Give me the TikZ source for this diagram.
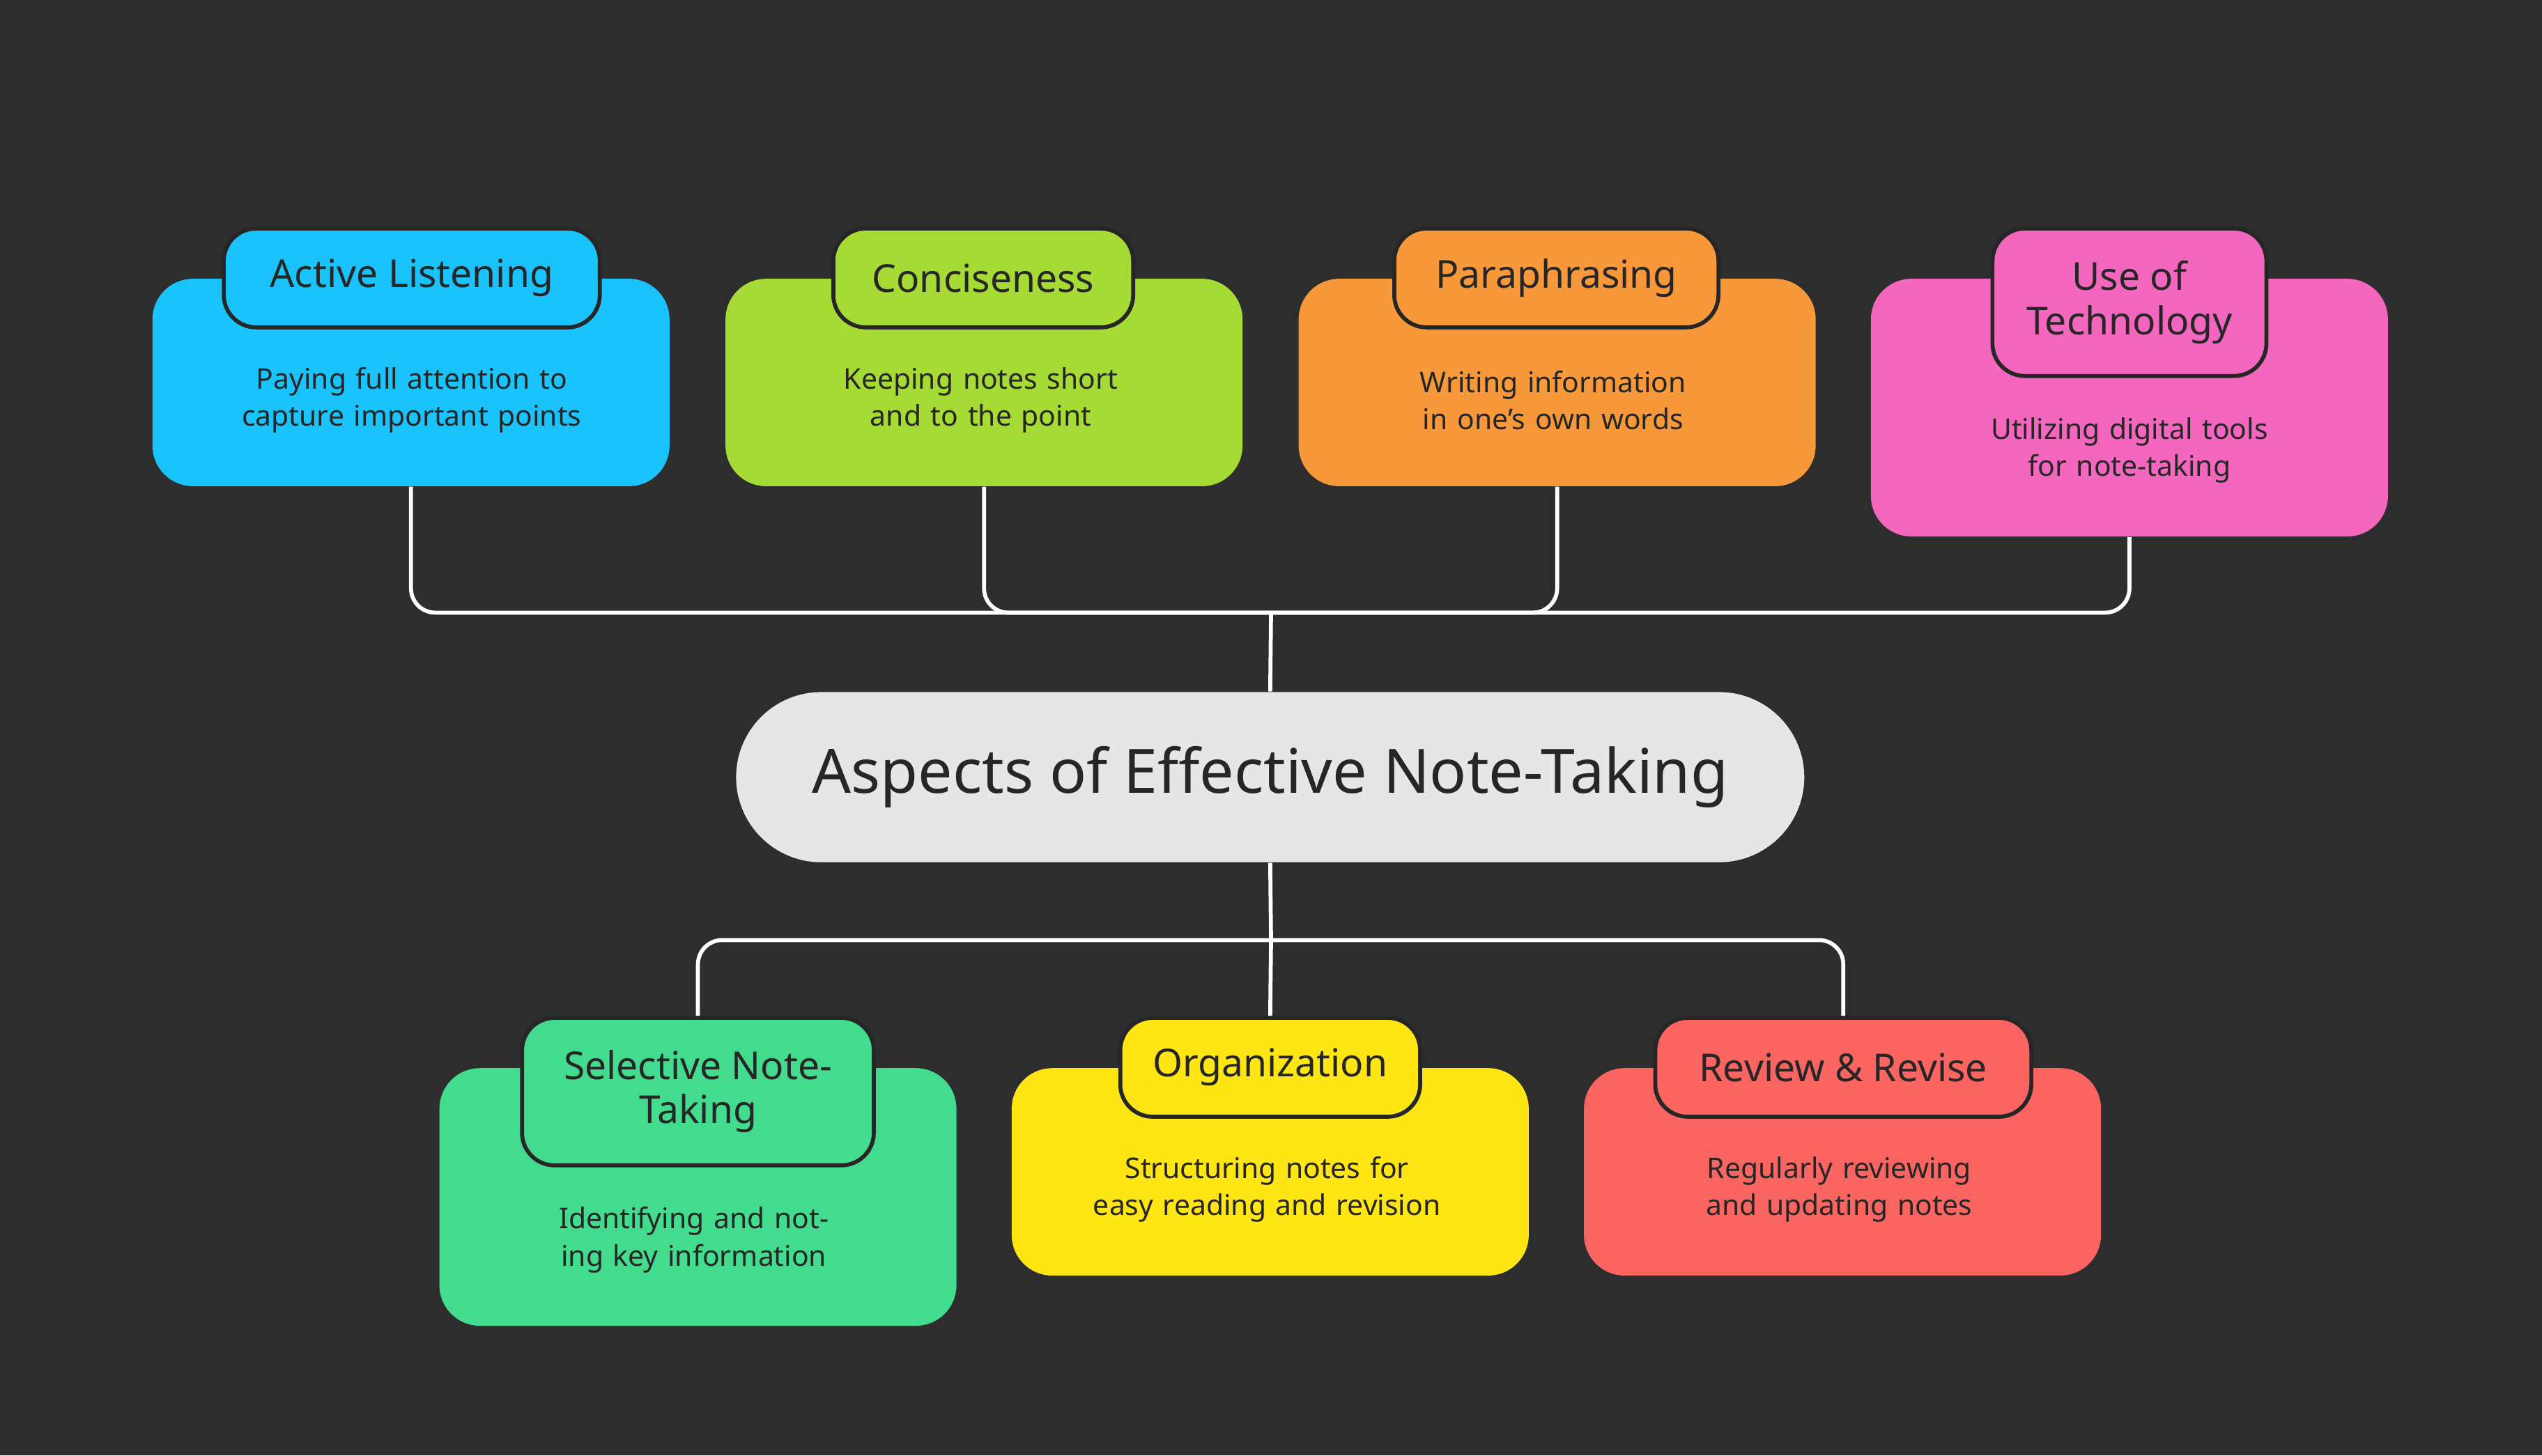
\documentclass[tikz,border=0pt]{standalone}
\usepackage{fontspec}
\setmainfont{Noto Sans}
\usetikzlibrary{positioning}
\definecolor{bgdark}{HTML}{2D2D2D}
\definecolor{inkdark}{HTML}{262626}
\definecolor{cblue}{HTML}{1AC3FB}
\definecolor{cgreen}{HTML}{A6DA35}
\definecolor{corange}{HTML}{F7993A}
\definecolor{cpink}{HTML}{F467BE}
\definecolor{cteal}{HTML}{43DC8F}
\definecolor{cyellow}{HTML}{FDE614}
\definecolor{cred}{HTML}{FA6562}
\definecolor{ctitle}{HTML}{E6E6E6}
\tikzset{
  body/.style={fill=#1, rounded corners=0.5cm, minimum width=6.38cm, minimum height=2.56cm},
  tallbody/.style={body=#1, minimum height=3.18cm},
  tab/.style={fill=#1, draw=inkdark, line width=1.4pt, rounded corners=0.4cm, minimum height=1.22cm,
    text=inkdark, font=\fontsize{13.5}{15.5}\selectfont\bfseries, align=center, inner sep=0pt},
  desc/.style={text=inkdark, font=\fontsize{10}{13}\selectfont, align=center, text width=5.4cm},
  conn/.style={draw=white, line width=1.4pt, rounded corners=0.3cm},
}
\begin{document}
\begin{tikzpicture}[x=0.02cm, y=-0.02cm]
\fill[bgdark] (0,0) rectangle (1568,898);
\useasboundingbox (0,0) rectangle (1568,898);
% connectors
\coordinate (hub) at (784,378);
\coordinate (bhub) at (784,580);
% top row
\node[body=cblue] (alb) at (253.5,236) {};
\node[body=cgreen] (cob) at (607,236) {};
\node[body=corange] (pab) at (960.5,236) {};
\node[tallbody=cpink] (teb) at (1313.5,251.5) {};
\draw[conn] (alb.south) |- (hub) -| (teb.south);
\draw[conn] (cob.south) |- (hub);
\draw[conn] (pab.south) |- (hub);
\node[tab=cblue, minimum width=4.64cm] (al) at (254,171.5) {Active Listening};
\node[tab=cgreen, minimum width=3.7cm] (co) at (606.5,171.5) {Conciseness};
\node[tab=corange, minimum width=4.0cm] (pa) at (960,171.5) {Paraphrasing};
\node[tab=cpink, minimum width=3.38cm, minimum height=1.82cm] (te) at (1313.5,186.5) {Use of\\Technology};
\node[desc] (ald) at (254,247) {Paying full attention to capture important points};
\node[desc] (cod) at (605,247) {Keeping notes short and to the point};
\node[desc] (pad) at (958,247) {Writing information in one's own words};
\node[desc] (ted) at (1313.5,278) {Utilizing digital tools for note-taking};
% title
\node[fill=ctitle, rounded corners=1.05cm, minimum width=13.18cm, minimum height=2.1cm,
  text=inkdark, font=\fontsize{21.5}{24}\selectfont\bfseries] (title) at (783.5,479.5) {Aspects of Effective Note-Taking};
\draw[conn] (hub) -- (title.north);
% bottom row
\node[tallbody=cteal] (stb) at (430.5,738.5) {};
\node[body=cyellow] (orb) at (783.5,723) {};
\node[body=cred] (rrb) at (1136.5,723) {};
\node[tab=cteal, minimum width=4.34cm, minimum height=1.82cm] (st) at (430.5,673.5) {Selective Note-\\Taking};
\node[tab=cyellow, minimum width=3.7cm] (or) at (783.5,658.5) {Organization};
\node[tab=cred, minimum width=4.64cm] (rr) at (1137,658.5) {Review \& Revise};
\draw[conn] (title.south) -- (bhub);
\draw[conn] (st.north) |- (bhub) -| (rr.north);
\draw[conn] (bhub) -- (or.north);
\node[desc] (std) at (428,765) {Identifying and noting key information};
\node[desc] (ord) at (781.5,734) {Structuring notes for easy reading and revision};
\node[desc] (rrd) at (1134.5,734) {Regularly reviewing and updating notes};
\end{tikzpicture}
\end{document}
